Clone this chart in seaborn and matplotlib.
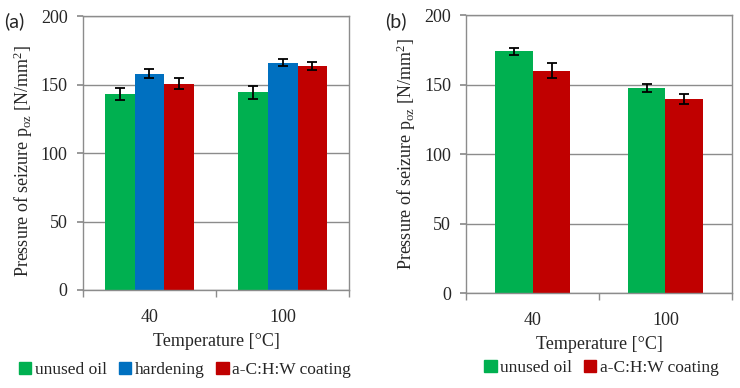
import matplotlib
matplotlib.use("Agg")
import matplotlib.pyplot as plt
import seaborn as sns
import pandas as pd
from matplotlib.ticker import FixedLocator

# ---- data ----
temps = ["40", "100"]
a_unused = [143.0, 144.3]
a_unused_err = [4.5, 4.7]
a_hard = [158.0, 166.0]
a_hard_err = [3.0, 2.6]
a_coat = [150.5, 163.5]
a_coat_err = [4.0, 2.7]
b_unused = [174.0, 147.5]
b_unused_err = [2.7, 3.0]
b_coat = [160.0, 139.5]
b_coat_err = [5.5, 3.6]

series_a = ["unused oil", "hardening", "a-C:H:W coating"]
series_b = ["unused oil", "a-C:H:W coating"]
colors = {"unused oil": "#00B050", "hardening": "#0070C0", "a-C:H:W coating": "#C00000"}

sns.set_theme(style="white")
plt.rcParams["font.family"] = ["Liberation Serif", "DejaVu Serif"]
plt.rcParams["mathtext.fontset"] = "custom"
plt.rcParams["mathtext.rm"] = "Liberation Serif"
plt.rcParams["mathtext.it"] = "Liberation Serif:italic"

def frame(series, vals, errs):
    rows = []
    for s, v, e in zip(series, vals, errs):
        for t, vv, ee in zip(temps, v, e):
            rows.append({"Temperature": t, "series": s, "value": vv, "err": ee})
    return pd.DataFrame(rows)

df_a = frame(series_a, [a_unused, a_hard, a_coat], [a_unused_err, a_hard_err, a_coat_err])
df_b = frame(series_b, [b_unused, b_coat], [b_unused_err, b_coat_err])

fig = plt.figure(figsize=(7.4, 3.88), dpi=100)
ax1 = fig.add_axes([0.112, 0.2526, 0.360, 0.706])
ax2 = fig.add_axes([0.630, 0.2448, 0.359, 0.716])

grid_c = "#8C8C8C"
ylabel = r"Pressure of seizure p$_{\mathrm{oz}}$ [N/mm$^{\mathrm{2}}$]"

def draw(ax, df, series, width, lab_x, lab_y, leg_anchor):
    sns.barplot(data=df, x="Temperature", y="value", hue="series", order=temps,
                hue_order=series, palette=colors, width=width, errorbar=None,
                saturation=1, linewidth=0, ax=ax, legend=False)
    for cont, s in zip(ax.containers, series):
        sub = df[df["series"] == s].set_index("Temperature").loc[temps]
        xs = [p.get_x() + p.get_width() / 2 for p in cont.patches]
        hs = [p.get_height() for p in cont.patches]
        ax.errorbar(xs, hs, yerr=sub["err"].values, fmt="none", ecolor="black",
                    elinewidth=1.3, capsize=3.5, capthick=1.3, zorder=5)
    ax.set_ylim(0, 200)
    ax.set_xlim(-0.5, 1.5)
    ax.set_yticks([0, 50, 100, 150, 200])
    ax.yaxis.grid(True, color=grid_c, linewidth=1.0)
    ax.set_axisbelow(True)
    for sp in ax.spines.values():
        sp.set_visible(True)
        sp.set_color(grid_c)
        sp.set_linewidth(1.0)
    ax.tick_params(axis="y", length=4, color=grid_c, pad=7, labelsize=13, left=True)
    ax.tick_params(axis="x", which="major", length=0, pad=14, labelsize=13)
    ax.xaxis.set_minor_locator(FixedLocator([-0.5, 0.5, 1.5]))
    ax.tick_params(axis="x", which="minor", length=5, color=grid_c, bottom=True)
    ax.set_xlabel("Temperature [°C]", fontsize=13, labelpad=5)
    ax.set_ylabel(ylabel, fontsize=13)
    ax.yaxis.set_label_coords(lab_x, lab_y)
    handles = [plt.Rectangle((0, 0), 1, 1, color=colors[s]) for s in series]
    fig.legend(handles, series, loc="center", bbox_to_anchor=leg_anchor, ncol=len(series),
               frameon=False, fontsize=12.5, handlelength=0.7, handleheight=0.7,
               handletextpad=0.2, columnspacing=0.7, borderaxespad=0)

draw(ax1, df_a, series_a, 0.67, -0.18, 0.47, (0.25, 0.046))
draw(ax2, df_b, series_b, 0.57, -0.18, 0.5, (0.813, 0.052))

fig.text(14 / 740, 1 - 21 / 388, "(a)", family=["Lato", "DejaVu Sans"], fontsize=14,
         ha="center", va="center")
fig.text(396 / 740, 1 - 21 / 388, "(b)", family=["Lato", "DejaVu Sans"], fontsize=14,
         ha="center", va="center")

fig.savefig("out.png", dpi=100)
